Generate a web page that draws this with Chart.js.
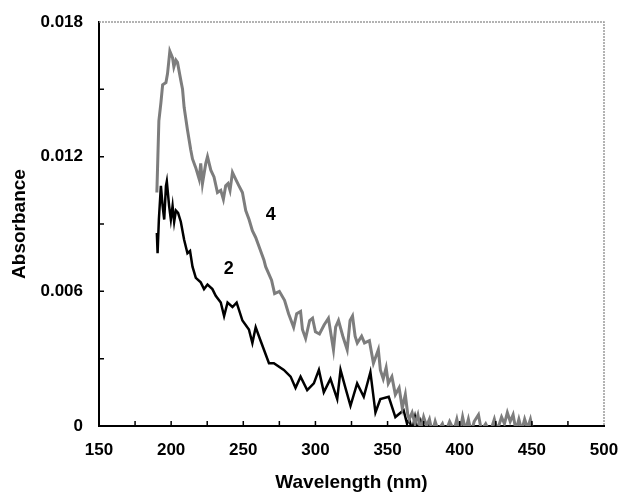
<!DOCTYPE html>
<html>
<head>
<meta charset="utf-8">
<script src="https://cdn.jsdelivr.net/npm/chart.js@4"></script>
<style>
  html, body { margin: 0; padding: 0; background: #fff; }
  #wrap { width: 619px; height: 500px; }
</style>
</head>
<body>
<div id="wrap"><canvas id="specChart"></canvas></div>
<script>
// curve 4 (grey)
const wl4 = [190.1, 190.8, 191.5, 192.9, 194.1, 196.4, 197.5, 199.1, 201.0, 201.9, 203.3, 204.4, 206.7, 207.9, 209.0,
  211.3, 213.6, 214.8, 217.1, 219.4, 220.5, 221.7, 224.0, 225.2, 227.5, 229.7, 232.1, 234.4, 236.2, 237.8, 239.4,
  240.8, 242.5, 244.7, 247.0, 249.4, 251.7, 254.0, 256.3, 258.6, 260.9, 264.3, 265.5, 269.6, 271.7, 275.0, 278.6,
  281.4, 284.9, 287.0, 289.7, 291.0, 293.2, 296.0, 298.0, 300.0, 302.8, 306.0, 309.0, 311.0, 312.5, 314.0, 316.0,
  319.0, 322.0, 324.0, 325.7, 327.5, 329.0, 332.0, 334.0, 337.4, 340.2, 343.6, 345.0, 347.0, 349.0, 350.5, 353.0,
  355.4, 358.0, 360.2, 362.3, 364.0, 365, 367, 369, 371, 373, 375, 377, 379, 381, 383, 385, 388, 390, 393, 396, 398,
  400, 402, 404, 406, 408, 410, 413, 415, 418, 421, 424, 426, 429, 431, 433, 435, 437, 439, 441, 443, 445, 447, 449, 450];
const abs4 = [0.0104, 0.0120, 0.0136, 0.0144, 0.0152, 0.0153, 0.0157, 0.0167, 0.0164, 0.0160, 0.0163, 0.0162, 0.0154, 0.0150, 0.0142,
  0.0132, 0.0123, 0.0119, 0.0115, 0.0110, 0.0117, 0.0108, 0.0117, 0.0120, 0.0114, 0.0111, 0.0104, 0.0105, 0.0101, 0.0107, 0.0108,
  0.0105, 0.0113, 0.0110, 0.0107, 0.0104, 0.0096, 0.0092, 0.0087, 0.0084, 0.0080, 0.0074, 0.0071, 0.0065, 0.0059, 0.0060, 0.0056,
  0.0050, 0.0044, 0.0050, 0.0051, 0.0043, 0.0039, 0.0047, 0.0048, 0.0042, 0.0041, 0.0045, 0.0048, 0.0040, 0.0034, 0.0044, 0.0047,
  0.0040, 0.0034, 0.0047, 0.0049, 0.0040, 0.0037, 0.0040, 0.0037, 0.0038, 0.0028, 0.0034, 0.0025, 0.0021, 0.0026, 0.0019, 0.0022,
  0.0014, 0.0017, 0.0008, 0.0014, 0.0005, 0.0003, 0.0006, 0.0001, 0.0005, -0.0002, 0.0004, 0.0000, 0.0003, -0.0003, 0.0002, -0.0002, 0.0001, -0.0003, 0.0002, -0.0002, 0.0003,
  -0.0003, 0.0004, -0.0002, 0.0003, -0.0003, 0.0002, 0.0005, -0.0002, 0.0001, -0.0003, 0.0003, -0.0002, 0.0004, 0.0001, 0.0006, 0.0002, 0.0005, -0.0002, 0.0003, -0.0002, 0.0003, -0.0001, 0.0003, 0.0000];

// curve 2 (black)
const wl2 = [190.1, 190.6, 191.5, 192.9, 194.1, 195.2, 196.4, 197.0, 198.6, 199.8, 201.0, 202.1, 203.3, 204.8, 206.7,
  209.0, 211.3, 213.1, 214.8, 217.1, 220.5, 222.8, 225.2, 228.6, 230.9, 234.4, 236.7, 239.1, 242.5, 245.4, 249.4,
  253.9, 256.3, 258.6, 262.0, 267.8, 271.2, 278.1, 282.8, 286.2, 289.7, 294.3, 298.9, 302.4, 305.8, 310.4, 315.1,
  317.4, 320.8, 324.3, 328.9, 333.5, 338.1, 341.6, 345.0, 350.8, 355.4, 361.1, 363.5, 365, 367, 369, 371, 373, 375, 378, 380, 383, 386];
const abs2 = [0.0086, 0.0077, 0.0092, 0.0107, 0.0098, 0.0092, 0.0107, 0.0109, 0.0098, 0.0092, 0.0098, 0.0091, 0.0096, 0.0095, 0.0091,
  0.0083, 0.0077, 0.0078, 0.0071, 0.0066, 0.0064, 0.0061, 0.0063, 0.0061, 0.0058, 0.0055, 0.0049, 0.0055, 0.0053, 0.0055, 0.0047,
  0.0043, 0.0037, 0.0044, 0.0038, 0.0028, 0.0028, 0.0025, 0.0022, 0.0017, 0.0022, 0.0016, 0.0019, 0.0025, 0.0015, 0.0021, 0.0012,
  0.0025, 0.0017, 0.0009, 0.0019, 0.0013, 0.0024, 0.0006, 0.0012, 0.0013, 0.0004, 0.0007, 0.0001, 0.0003, -0.0002, 0.0004, -0.0003, 0.0002, -0.0003, 0.0001, -0.0002, 0.0001, -0.0003];

const xTickLabels = ['150', '200', '250', '300', '350', '400', '450', '500'];
const yTickLabels = ['0', '0.006', '0.012', '0.018'];

// curve labels, in data units
const curveLabels = [
  { text: '4', x: 269, y: 0.0094 },
  { text: '2', x: 240, y: 0.0070 }
];

const FONT = '"Liberation Sans", Arial, sans-serif';

const toPoints = (xs, ys) => xs.map((x, i) => ({ x: x, y: ys[i] }));

const frame = {
  id: 'frame',
  afterDraw(chart) {
    const { ctx, chartArea: a, scales: { x, y } } = chart;
    ctx.save();
    // grey top / right border
    ctx.strokeStyle = '#9a9a9a';
    ctx.lineWidth = 1.5;
    ctx.setLineDash([2, 1]);
    ctx.beginPath();
    ctx.moveTo(a.left, a.top);
    ctx.lineTo(a.right, a.top);
    ctx.lineTo(a.right, a.bottom);
    ctx.stroke();
    ctx.setLineDash([]);
    // inward ticks
    ctx.strokeStyle = '#000';
    ctx.lineWidth = 1.5;
    ctx.beginPath();
    for (let v = 175; v < 500; v += 25) {
      const px = x.getPixelForValue(v);
      ctx.moveTo(px, a.bottom);
      ctx.lineTo(px, a.bottom - 5);
    }
    for (let k = 1; k < 6; k++) {
      const py = y.getPixelForValue(k * 0.003);
      ctx.moveTo(a.left, py);
      ctx.lineTo(a.left + 5, py);
    }
    ctx.stroke();
    // curve numbers
    ctx.fillStyle = '#000';
    ctx.font = 'bold 18px ' + FONT;
    ctx.textAlign = 'center';
    ctx.textBaseline = 'middle';
    curveLabels.forEach(l => {
      ctx.fillText(l.text, x.getPixelForValue(l.x), y.getPixelForValue(l.y));
    });
    ctx.restore();
  }
};

new Chart(document.getElementById('specChart'), {
  type: 'line',
  data: {
    datasets: [
      {
        label: '4',
        data: toPoints(wl4, abs4),
        borderColor: '#7d7d7d',
        borderWidth: 3,
        pointRadius: 0,
        tension: 0
      },
      {
        label: '2',
        data: toPoints(wl2, abs2),
        borderColor: '#000',
        borderWidth: 2.5,
        pointRadius: 0,
        tension: 0
      }
    ]
  },
  options: {
    responsive: true,
    maintainAspectRatio: false,
    animation: false,
    layout: { padding: { top: 22, right: 15, bottom: 0, left: 0 } },
    plugins: {
      legend: { display: false },
      tooltip: { enabled: false }
    },
    scales: {
      x: {
        type: 'linear',
        min: 150,
        max: 500,
        afterFit: s => { s.height = 74; s.paddingLeft = 0; s.paddingRight = 0; },
        grid: { display: false, drawTicks: false },
        border: { display: true, color: '#000', width: 2 },
        ticks: {
          stepSize: 50,
          padding: 14,
          color: '#000',
          font: { family: FONT, size: 17, weight: 'bold' },
          callback: v => xTickLabels[Math.round((v - 150) / 50)]
        },
        title: {
          display: true,
          text: 'Wavelength (nm)',
          color: '#000',
          font: { family: FONT, size: 19, weight: 'bold' },
          padding: { top: 0, bottom: 6 }
        }
      },
      y: {
        min: 0,
        max: 0.018,
        afterFit: s => { s.width = 99; s.paddingTop = 0; s.paddingBottom = 0; },
        grid: { display: false, drawTicks: false },
        border: { display: true, color: '#000', width: 2 },
        ticks: {
          stepSize: 0.006,
          padding: 16,
          color: '#000',
          font: { family: FONT, size: 17, weight: 'bold' },
          callback: v => yTickLabels[Math.round(v / 0.006)]
        },
        title: {
          display: true,
          text: 'Absorbance',
          color: '#000',
          font: { family: FONT, size: 19, weight: 'bold' },
          padding: { top: 8, bottom: 0 }
        }
      }
    }
  },
  plugins: [frame]
});
</script>
</body>
</html>
